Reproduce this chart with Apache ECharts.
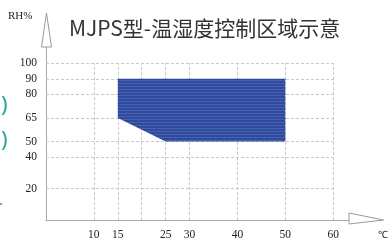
<!DOCTYPE html>
<html>
<head>
<meta charset="utf-8">
<script src="https://cdn.jsdelivr.net/npm/echarts@6/dist/echarts.min.js"></script>
<style>
  html, body { margin: 0; padding: 0; background: #fff; }
  #chart { width: 388px; height: 241px; }
</style>
</head>
<body>
<div id="chart"></div>
<script>
// 控制区域多边形的顶点 (温度, 湿度)
const zoneTemp = [15, 50, 50, 25, 15]
const zoneRH = [90, 90, 50, 50, 65]
// 网格线和刻度
const xTicks = [10, 15, 20, 25, 30, 40, 50, 60]
const xLabels = [10, 15, 25, 30, 40, 50, 60]
const yTicks = [20, 40, 50, 65, 80, 90, 100]

const chart = echarts.init(document.getElementById('chart'))

// 条纹填充
const pat = document.createElement('canvas')
pat.width = 4
pat.height = 3
const pctx = pat.getContext('2d')
pctx.fillStyle = '#2d4a9f'
pctx.fillRect(0, 0, 4, 3)
pctx.fillStyle = '#4862ad'
pctx.fillRect(0, 2, 4, 1)

const gridLines = []
xTicks.forEach(x => gridLines.push([{ coord: [x, 0] }, { coord: [x, 100] }]))
yTicks.forEach(y => gridLines.push([{ coord: [0, y] }, { coord: [60, y] }]))

const serif = 'Liberation Serif'

const option = {
  animation: false,
  title: {
    text: 'MJPS型-温湿度控制区域示意',
    left: 64,
    top: 13,
    textStyle: {
      fontFamily: 'Noto Sans CJK SC',
      fontWeight: 'normal',
      fontSize: 21,
      color: '#333'
    }
  },
  grid: { left: 46, right: 7, top: 16, bottom: 19 },
  xAxis: {
    type: 'value',
    min: 0,
    max: 70,
    interval: 5,
    axisLine: { lineStyle: { color: '#aaa', width: 1 } },
    axisTick: { show: false },
    splitLine: { show: false },
    axisLabel: {
      margin: 9,
      fontFamily: serif,
      fontSize: 11.5,
      color: '#222',
      formatter: v => (xLabels.includes(v) ? String(v) : '')
    }
  },
  yAxis: {
    type: 'value',
    min: 0,
    max: 130,
    interval: 5,
    axisLine: { show: true, lineStyle: { color: '#aaa', width: 1 } },
    axisTick: { show: false },
    splitLine: { show: false },
    axisLabel: {
      margin: 9,
      fontFamily: serif,
      fontSize: 11.5,
      color: '#222',
      formatter: v => (yTicks.includes(v) ? String(v) : '')
    }
  },
  series: [
    {
      // 虚线网格
      type: 'line',
      data: [],
      z: 1,
      markLine: {
        silent: true,
        symbol: 'none',
        label: { show: false },
        lineStyle: { color: '#c8c8c8', type: [3, 2], width: 1 },
        data: gridLines
      }
    },
    {
      type: 'custom',
      data: [0],
      z: 5,
      renderItem: (params, api) => {
        const points = zoneTemp.map((t, i) => api.coord([t, zoneRH[i]]))
        return {
          type: 'polygon',
          z2: 10,
          shape: { points },
          style: { fill: { image: pat, repeat: 'repeat' } }
        }
      }
    }
  ]
}

chart.setOption(option)

// 轴端空心箭头与标注
const o = chart.convertToPixel({ gridIndex: 0 }, [0, 0])
const xEnd = chart.convertToPixel({ gridIndex: 0 }, [70, 0])
chart.setOption({
  graphic: [
    {
      type: 'polygon',
      z: 100,
      shape: { points: [[o[0] + 0.5, 13], [o[0] - 4.5, 47], [o[0] + 5.5, 47]] },
      style: { fill: '#fff', stroke: '#999', lineWidth: 1 }
    },
    {
      type: 'polygon',
      z: 100,
      shape: { points: [[xEnd[0] + 2.5, o[1]], [xEnd[0] - 32, o[1] - 7], [xEnd[0] - 32, o[1] + 4]] },
      style: { fill: '#fff', stroke: '#999', lineWidth: 1 }
    },
    {
      type: 'text',
      left: 8,
      top: 11,
      style: { text: 'RH%', font: '11px "Liberation Serif"', fill: '#222' }
    },
    {
      type: 'text',
      left: 378,
      top: 230,
      style: { text: '℃', font: '10px "Liberation Serif"', fill: '#222' }
    },
    {
      type: 'text',
      left: 1,
      top: 95,
      style: { text: ')', font: '22px "Noto Sans"', fill: '#26a69a' }
    },
    {
      type: 'text',
      left: 1,
      top: 130,
      style: { text: ')', font: '22px "Noto Sans"', fill: '#26a69a' }
    },
    {
      type: 'circle',
      shape: { cx: 1, cy: 204, r: 1 },
      style: { fill: '#4a7f8a' }
    }
  ]
})
</script>
</body>
</html>
